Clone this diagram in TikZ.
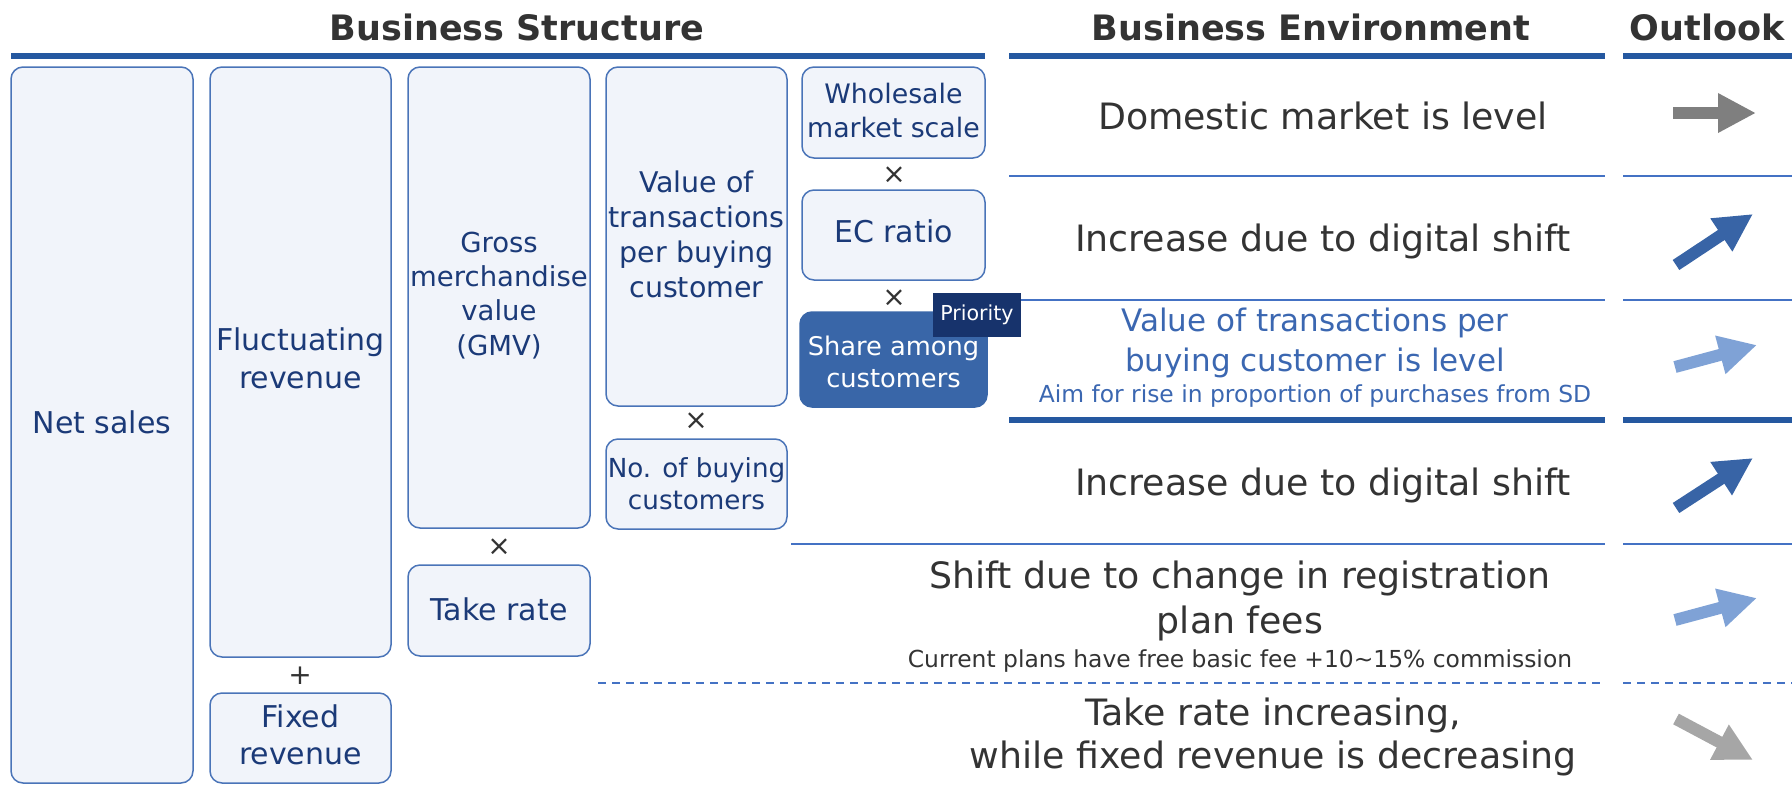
\documentclass[tikz,border=0pt]{standalone}
\usepackage{fontspec}
\setmainfont{DejaVu Sans}
\usetikzlibrary{arrows.meta}
\definecolor{hdr}{HTML}{2558A0}
\definecolor{sepc}{HTML}{4472C4}
\definecolor{bxfill}{HTML}{F1F4FA}
\definecolor{bxdraw}{HTML}{4A74B8}
\definecolor{navy}{HTML}{1B3A78}
\definecolor{txtgray}{HTML}{333333}
\definecolor{sharefill}{HTML}{3966A8}
\definecolor{prio}{HTML}{17336C}
\definecolor{rowblue}{HTML}{3B67B1}
\definecolor{arrgray}{HTML}{7F7F7F}
\definecolor{arrdark}{HTML}{3864A6}
\definecolor{arrlight}{HTML}{7FA2D6}
\definecolor{arrlgray}{HTML}{A6A6A6}
\newcommand\setfs[2]{\fontsize{#1}{#2}\selectfont}
\tikzset{
  box/.style={draw=bxdraw, line width=1.5pt, fill=bxfill, rounded corners=12pt, inner sep=0pt},
  sharebox/.style={box, fill=sharefill, draw=sharefill},
  boxlbl/.style={align=center, text=navy, inner sep=0pt},
  prioritytag/.style={fill=prio, inner sep=0pt, text=white, font=\setfs{20.6}{24}},
  opsign/.style={text=txtgray, inner sep=0pt, font=\setfs{28}{30}},
  titletxt/.style={anchor=base, text=txtgray, inner sep=0pt, font=\bfseries\setfs{35}{40}},
  bigtxt/.style={anchor=base, text=txtgray, inner sep=0pt, font=\setfs{36.3}{42}},
  bluetxt/.style={anchor=base, text=rowblue, inner sep=0pt, font=\setfs{31}{38}},
  smalltxt/.style={anchor=base, inner sep=0pt, font=\setfs{23.4}{28}},
  hdrline/.style={draw=hdr, line width=6pt},
  sepline/.style={draw=sepc, line width=2pt},
  dashline/.style={draw=sepc, line width=2pt, dash pattern=on 8pt off 6pt},
  blockarrow/.style={line width=12pt, -{Triangle[width=37pt,length=38pt]}}
}
\begin{document}
\begin{tikzpicture}[x=1pt,y=-1pt]
\useasboundingbox (0,0) rectangle (1792,785);
% titles
\node[titletxt] (t1) at (517,40) {Business Structure};
\node[titletxt] (t2) at (1311,40) {Business Environment};
\node[titletxt] (t3) at (1707,40) {Outlook};
% header lines
\draw[hdrline] (11,56) -- (985,56);
\draw[hdrline] (1009,56) -- (1605,56);
\draw[hdrline] (1623,56) -- (1792,56);
% separators
\draw[sepline] (1009,176) -- (1605,176);
\draw[sepline] (1623,176) -- (1792,176);
\draw[sepline] (1009,300) -- (1605,300);
\draw[sepline] (1623,300) -- (1792,300);
\draw[hdrline] (1009,420) -- (1605,420);
\draw[hdrline] (1623,420) -- (1792,420);
\draw[sepline] (791,544) -- (1605,544);
\draw[sepline] (1623,544) -- (1792,544);
\draw[dashline] (598,683) -- (1605,683);
\draw[dashline] (1623,683) -- (1792,683);
% structure boxes
\node[box, minimum width=182pt, minimum height=716pt] (net) at (102,425) {};
\node[boxlbl, font=\setfs{30}{38}] (netT) at ([yshift=2.3pt]net.center) {Net sales};
\node[box, minimum width=181pt, minimum height=590pt] (fluct) at (300.5,362) {};
\node[boxlbl, font=\setfs{30}{38}] (fluctT) at ([yshift=3.4pt]fluct.center) {Fluctuating\\revenue};
\node[opsign] (plus) at (300,676) {+};
\node[box, minimum width=181pt, minimum height=90pt] (fixed) at (300.5,738) {};
\node[boxlbl, font=\setfs{30}{36.6}] (fixedT) at ([yshift=3.4pt]fixed.center) {Fixed\\revenue};
\node[box, minimum width=182pt, minimum height=461pt] (gmv) at (499,297.5) {};
\node[boxlbl, font=\setfs{27.5}{34.3}] (gmvT) at ([yshift=2.3pt]gmv.center) {Gross\\merchandise\\value\\(GMV)};
\node[opsign] (x4) at (499,547) {×};
\node[box, minimum width=182pt, minimum height=91pt] (take) at (499,610.5) {};
\node[boxlbl, font=\setfs{30}{38}] (takeT) at ([yshift=1.2pt]take.center) {Take rate};
\node[box, minimum width=181pt, minimum height=339pt] (value) at (696.5,236.5) {};
\node[boxlbl, font=\setfs{28.5}{35}] (valueT) at ([yshift=2.3pt]value.center) {Value of\\transactions\\per buying\\customer};
\node[opsign] (x3) at (696,421) {×};
\node[box, minimum width=181pt, minimum height=90pt] (nobuy) at (696.5,484) {};
\node[boxlbl, font=\setfs{26.2}{32}] (nobuyT) at (nobuy.center) {No. of buying\\customers};
\node[box, minimum width=183pt, minimum height=91pt] (whole) at (893.5,112.5) {};
\node[boxlbl, font=\setfs{26.8}{34.3}] (wholeT) at ([yshift=2.3pt]whole.center) {Wholesale\\market scale};
\node[opsign] (x1) at (894,175) {×};
\node[box, minimum width=183pt, minimum height=90pt] (ec) at (893.5,235) {};
\node[boxlbl, font=\setfs{30}{38}] (ecT) at ([yshift=3.4pt]ec.center) {EC ratio};
\node[opsign] (x2) at (894,298) {×};
\node[sharebox, minimum width=187pt, minimum height=95pt] (share) at (893.5,359.5) {};
\node[boxlbl, text=white, font=\setfs{25.7}{32}] (shareT) at ([yshift=-2.3pt]share.center) {Share among\\customers};
\node[prioritytag, minimum width=88pt, minimum height=44pt] (prio) at (977,315) {Priority};
% environment texts
\node[bigtxt] (r1) at (1323,129) {Domestic market is level};
\node[bigtxt] (r2) at (1323,251) {Increase due to digital shift};
\node[bluetxt] (r3a) at (1315,331) {Value of transactions per};
\node[bluetxt] (r3b) at (1315,371) {buying customer is level};
\node[smalltxt, text=rowblue] (r3c) at (1315,402) {Aim for rise in proportion of purchases from SD};
\node[bigtxt] (r4) at (1323,495) {Increase due to digital shift};
\node[bigtxt] (r5a) at (1240,588) {Shift due to change in registration};
\node[bigtxt] (r5b) at (1240,633) {plan fees};
\node[smalltxt, text=txtgray] (r5c) at (1240,667) {Current plans have free basic fee +10\textasciitilde15\% commission};
\node[bigtxt] (r6a) at (1273,725) {Take rate increasing,};
\node[bigtxt] (r6b) at (1273,768) {while fixed revenue is decreasing};
% outlook arrows
\coordinate (a1s) at (1673,113); \coordinate (a1e) at (1756,113);
\coordinate (a2s) at (1676,265); \coordinate (a2e) at (1753,214);
\coordinate (a3s) at (1675,367); \coordinate (a3e) at (1757,345);
\coordinate (a4s) at (1676,508); \coordinate (a4e) at (1753,458);
\coordinate (a5s) at (1675,620); \coordinate (a5e) at (1757,598);
\coordinate (a6s) at (1676,719); \coordinate (a6e) at (1753,760);
\draw[blockarrow, arrgray] (a1s) -- (a1e);
\draw[blockarrow, arrdark] (a2s) -- (a2e);
\draw[blockarrow, arrlight] (a3s) -- (a3e);
\draw[blockarrow, arrdark] (a4s) -- (a4e);
\draw[blockarrow, arrlight] (a5s) -- (a5e);
\draw[blockarrow, arrlgray] (a6s) -- (a6e);
\end{tikzpicture}
\end{document}
